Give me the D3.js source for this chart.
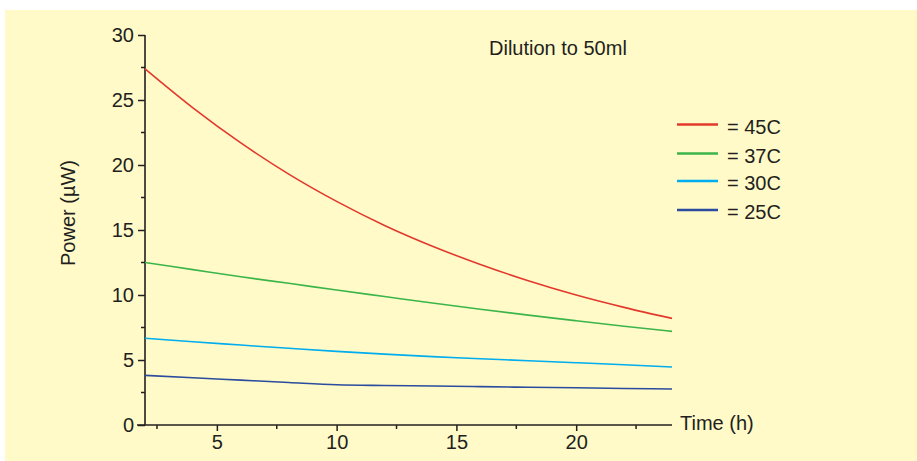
<!DOCTYPE html>
<html>
<head>
<meta charset="utf-8">
<script src="https://cdnjs.cloudflare.com/ajax/libs/d3/7.8.5/d3.min.js"></script>
<style>
  body { margin: 0; background: #fff; }
  svg text { font-family: "Liberation Sans", Arial, sans-serif; fill: #231f20; }
</style>
</head>
<body>
<script>
// readings, time in hours
var times = [2, 4, 6, 8, 10, 12, 14, 16, 18, 20, 22, 24];
var p45 = [27.4, 24.4, 21.7, 19.3, 17.2, 15.35, 13.75, 12.35, 11.1, 10.0, 9.05, 8.2];
var p37 = [12.5, 11.95, 11.4, 10.9, 10.38, 9.88, 9.38, 8.9, 8.45, 8.02, 7.6, 7.2];
var p30 = [6.67, 6.4, 6.15, 5.9, 5.66, 5.45, 5.26, 5.1, 4.94, 4.79, 4.63, 4.46];
var p25 = [3.82, 3.63, 3.45, 3.27, 3.1, 3.04, 3.0, 2.95, 2.9, 2.86, 2.81, 2.77];

var seriesNames = ["= 45C", "= 37C", "= 30C", "= 25C"];
var seriesColors = ["#e2392d", "#3bb54a", "#00adee", "#2b4c9e"];
var seriesValues = [p45, p37, p30, p25];

var yTicks = [0, 5, 10, 15, 20, 25, 30];
var xTicks = [5, 10, 15, 20];

var W = 917, H = 461;
var svg = d3.select("body").append("svg")
    .attr("width", W)
    .attr("height", H);

// yellow panel
svg.append("rect")
    .attr("x", 5)
    .attr("y", 10)
    .attr("width", W - 5)
    .attr("height", H - 10)
    .attr("fill", "#fffac8");

var x = d3.scaleLinear().domain([2, 24]).range([145, 672]);
var y = d3.scaleLinear().domain([0, 30]).range([425, 35]);

// y axis
var yAxis = d3.axisLeft(y).tickValues(yTicks).tickSize(7).tickPadding(4).tickFormat(d3.format("d"));
var gy = svg.append("g")
    .attr("transform", "translate(" + x(2) + ",0)")
    .call(yAxis);
gy.select(".domain").remove();
gy.append("line")
    .attr("y1", y(0)).attr("y2", y(30))
    .attr("stroke", "#231f20").attr("stroke-width", 1.6);

// minor y ticks
gy.selectAll(".minor")
    .data(d3.range(2.5, 30, 5))
    .enter().append("line")
    .attr("class", "minor")
    .attr("x1", -4).attr("x2", 0)
    .attr("y1", function(d) { return y(d); })
    .attr("y2", function(d) { return y(d); })
    .attr("stroke", "#231f20").attr("stroke-width", 1.5);

// x axis
var xAxis = d3.axisBottom(x).tickValues(xTicks).tickSize(6).tickPadding(4);
var gx = svg.append("g")
    .attr("transform", "translate(0," + y(0) + ")")
    .call(xAxis);
gx.select(".domain").remove();
gx.append("line")
    .attr("x1", 137).attr("x2", x(24))
    .attr("stroke", "#231f20").attr("stroke-width", 1.6);

gx.selectAll(".minor")
    .data(d3.range(2.5, 24, 5))
    .enter().append("line")
    .attr("class", "minor")
    .attr("y1", 0).attr("y2", 4)
    .attr("x1", function(d) { return x(d); })
    .attr("x2", function(d) { return x(d); })
    .attr("stroke", "#231f20").attr("stroke-width", 1.5);

[gx, gy].forEach(function(g) {
    g.selectAll(".tick line").attr("stroke", "#231f20").attr("stroke-width", 1.5);
    g.selectAll(".tick text")
        .style("font-size", "20px")
        .style("font-family", "Liberation Sans, Arial, sans-serif")
        .attr("fill", "#231f20");
});

// axis titles
svg.append("text")
    .attr("transform", "translate(75,213) rotate(-90)")
    .attr("text-anchor", "middle")
    .style("font-size", "20px")
    .text("Power (\u00b5W)");

svg.append("text")
    .attr("x", 680)
    .attr("y", 430)
    .style("font-size", "20px")
    .text("Time (h)");

svg.append("text")
    .attr("x", 489)
    .attr("y", 55)
    .style("font-size", "20px")
    .text("Dilution to 50ml");

// lines
var line = d3.line()
    .x(function(d, i) { return x(times[i]); })
    .y(function(d) { return y(d); })
    .curve(d3.curveMonotoneX);

seriesValues.forEach(function(vals, i) {
    svg.append("path")
        .datum(vals)
        .attr("d", line)
        .attr("fill", "none")
        .attr("stroke", seriesColors[i])
        .attr("stroke-width", 1.6);
});

// legend
var legendY = [124.5, 153.5, 181, 210];
var legend = svg.append("g");
seriesNames.forEach(function(name, i) {
    legend.append("line")
        .attr("x1", 677).attr("x2", 718)
        .attr("y1", legendY[i]).attr("y2", legendY[i])
        .attr("stroke", seriesColors[i])
        .attr("stroke-width", 2.5);
    legend.append("text")
        .attr("x", 727)
        .attr("y", legendY[i] + 9)
        .style("font-size", "20px")
        .text(name);
});
</script>
</body>
</html>
